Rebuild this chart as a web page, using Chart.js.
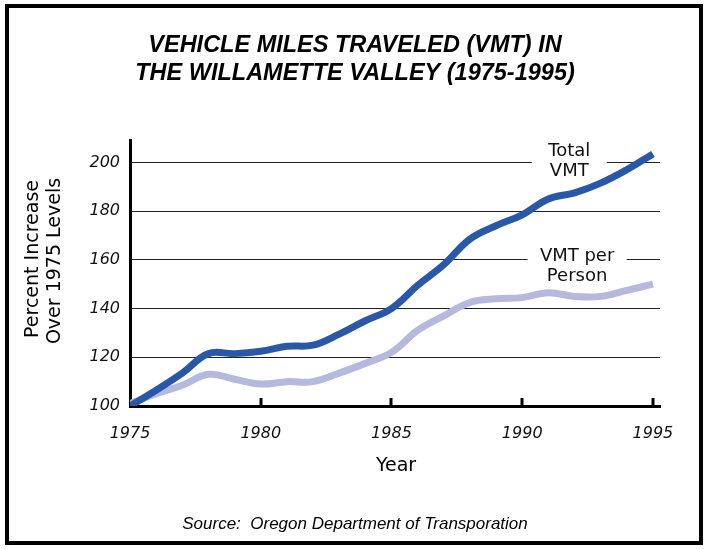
<!DOCTYPE html>
<html><head><meta charset="utf-8">
<script src="https://cdn.jsdelivr.net/npm/chart.js@4/dist/chart.umd.min.js"></script>
<style>html,body{margin:0;padding:0;background:#fff}canvas{display:block}</style>
</head><body>
<canvas id="c" width="708" height="549"></canvas>
<script>
// ---- data ----
const years = [1975,1976,1977,1978,1979,1980,1981,1982,1983,1984,1985,1986,1987,1988,1989,1990,1991,1992,1993,1994,1995];
const totalVMT = [100,106.5,113.5,121.5,121.5,122.5,124.5,125,129.5,135,140,149.5,158,168.5,174,178.5,185,187.5,191.5,197,203.5];
const vmtPerPerson = [101,105,108.5,113,111,109,110,110,113.5,117.5,122,131,137,142.5,144,144.5,146.5,145,145,147.5,150];
const yTickValues = [100,120,140,160,180,200];
const xTickValues = [1975,1980,1985,1990,1995];
const titleLines = ["VEHICLE MILES TRAVELED (VMT) IN","THE WILLAMETTE VALLEY (1975-1995)"];
const yAxisTitle = ["Percent Increase","Over 1975 Levels"];
const xAxisTitle = "Year";
const sourceText = "Source:  Oregon Department of Transporation";
const seriesNames = ["Total VMT","VMT per Person"];
const calloutLines = [["Total","VMT"],["VMT per","Person"]];

const toPoints = (xs, ys) => xs.map((x,i)=>({x, y: ys[i]}));

const deco = {
  id: 'deco',
  beforeDraw(chart){
    const c = chart.ctx; c.save();
    c.fillStyle = '#fff'; c.fillRect(0,0,chart.width,chart.height);
    c.restore();
  },
  beforeDatasetsDraw(chart, args, opts){
    const {ctx, scales:{x, y}} = chart;
    ctx.save(); ctx.fillStyle = '#fff';
    opts.callouts.forEach(cl => {
      const cx = x.getPixelForValue(cl.x);
      const gy = y.getPixelForValue(cl.grid);
      ctx.fillRect(cx - cl.gap/2, gy - 2, cl.gap, 4);
    });
    ctx.restore();
  },
  afterDraw(chart, args, opts){
    const {ctx, scales:{x, y}, chartArea} = chart;
    ctx.save();
    // upward tick marks on the x axis
    ctx.strokeStyle = '#000'; ctx.lineWidth = 3;
    x.ticks.forEach((t,i) => {
      if (i === 0) return;
      const px = Math.round(x.getPixelForValue(t.value));
      ctx.beginPath(); ctx.moveTo(px, chartArea.bottom); ctx.lineTo(px, chartArea.bottom - 8); ctx.stroke();
    });
    // callout labels
    ctx.fillStyle = '#111';
    ctx.font = '18px "DejaVu Sans"';
    ctx.textAlign = 'center'; ctx.textBaseline = 'middle';
    opts.callouts.forEach((cl, k) => {
      const cx = x.getPixelForValue(cl.x);
      const cy = y.getPixelForValue(cl.y);
      cl.lines.forEach((s, i) => ctx.fillText(s, cx, cy + (i - (cl.lines.length-1)/2) * 20));
    });
    // title
    ctx.fillStyle = '#000';
    ctx.font = 'italic bold 23.5px "Liberation Sans"';
    ctx.textBaseline = 'alphabetic';
    titleLines.forEach((s,i) => ctx.fillText(s, 355, 52 + i*28));
    // y axis title (rotated)
    ctx.font = '19px "DejaVu Sans"';
    ctx.textBaseline = 'middle';
    yAxisTitle.forEach((s,i) => {
      ctx.save(); ctx.translate(33 + i*22, 259 + i*2); ctx.rotate(-Math.PI/2);
      ctx.fillText(s, 0, 0); ctx.restore();
    });
    // x axis title
    ctx.fillText(xAxisTitle, 396, 466);
    // source
    ctx.font = 'italic 17px "Liberation Sans"';
    ctx.fillText(sourceText, 355, 524);
    // frame
    ctx.strokeStyle = '#000'; ctx.lineWidth = 4;
    ctx.strokeRect(7, 6, 694, 537);
    ctx.restore();
  }
};

const tickFont = {family: '"DejaVu Sans"', style: 'italic', size: 16};

new Chart(document.getElementById('c'), {
  type: 'line',
  data: {
    datasets: [
      {label: seriesNames[0], data: toPoints(years, totalVMT), borderColor: '#2A58A8', borderWidth: 7, pointRadius: 0, tension: 0.4, fill: false, borderCapStyle: 'butt'},
      {label: seriesNames[1], data: toPoints(years, vmtPerPerson), borderColor: '#B5B9DD', borderWidth: 7, pointRadius: 0, tension: 0.4, fill: false, borderCapStyle: 'butt'}
    ]
  },
  options: {
    responsive: false,
    animation: false,
    devicePixelRatio: 1,
    layout: {padding: {left: 0, top: 140, right: 48, bottom: 0}},
    plugins: {
      legend: {display: false},
      title: {display: false},
      tooltip: {enabled: false},
      deco: {
        callouts: [
          {lines: calloutLines[0], x: 1991.8, y: 200.5, grid: 200, gap: 75},
          {lines: calloutLines[1], x: 1992.1, y: 157.5, grid: 160, gap: 99}
        ]
      }
    },
    scales: {
      x: {
        type: 'linear', min: 1975, max: 1995.27,
        afterFit(s){ s.height = 143; },
        afterBuildTicks(s){ s.ticks = xTickValues.map(v => ({value: v})); },
        grid: {display: false, drawTicks: false},
        border: {display: true, color: '#000', width: 3},
        ticks: {font: tickFont, color: '#111', padding: 18, maxRotation: 0, autoSkip: false, callback: v => String(v)}
      },
      y: {
        type: 'linear', min: 100, max: 209.2,
        afterFit(s){ s.width = 130; },
        afterBuildTicks(s){ s.ticks = yTickValues.map(v => ({value: v})); },
        grid: {display: true, drawTicks: false, color: '#222', lineWidth: 1},
        border: {display: true, color: '#000', width: 3},
        ticks: {font: tickFont, color: '#111', padding: 10, callback: v => String(v)}
      }
    }
  },
  plugins: [deco]
});
</script>
</body></html>
